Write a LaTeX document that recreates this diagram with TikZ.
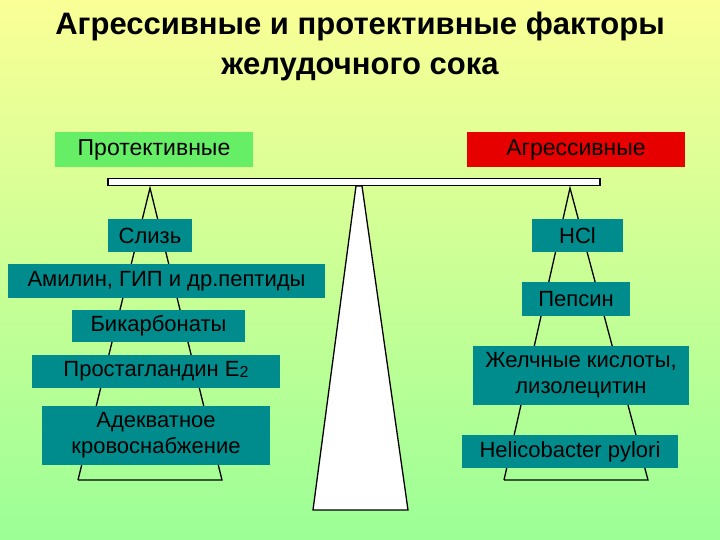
\documentclass[tikz,border=0pt]{standalone}
\usepackage{fontspec}
\setmainfont{Liberation Sans}
\begin{document}
\begin{tikzpicture}[x=1pt,y=-1pt,
  box/.style={fill=teal!90!black!95, text=black, font=\fontsize{22}{26}\selectfont, align=center, inner sep=0pt},
  sup/.style={draw=black, line width=1.3pt},
  hdr/.style={font=\fontsize{23}{26}\selectfont, inner sep=0pt}]
\definecolor{bgtop}{RGB}{250,255,150}
\definecolor{bgbot}{RGB}{155,255,150}
\definecolor{tealbox}{RGB}{0,140,140}
\shade[top color=bgtop, bottom color=bgbot] (0,0) rectangle (720,540);
\useasboundingbox (0,0) rectangle (720,540);
\node[font=\bfseries\fontsize{31}{40}\selectfont, align=center] (title) at (360,46) {Агрессивные и протективные факторы\\желудочного сока};
% pole
\coordinate (pa) at (356,186); \coordinate (pb) at (362,186);
\coordinate (pc) at (408,510); \coordinate (pd) at (313,510);
\draw[sup, fill=white] (pa) -- (pb) -- (pc) -- (pd) -- cycle;
% beam
\node[draw, line width=1.3pt, fill=white, minimum width=492pt, minimum height=7pt, inner sep=0pt] (beam) at (354,182) {};
% supports
\coordinate (la) at (150,188); \coordinate (lb) at (78,480); \coordinate (lc) at (222,480);
\draw[sup] (lb) -- (la) -- (lc) -- (lb);
\coordinate (ra) at (570,188); \coordinate (rb) at (504,480); \coordinate (rc) at (648,480);
\draw[sup] (rb) -- (ra) -- (rc) -- (rb);
% headers
\node[hdr, fill={rgb,255:red,102;green,238;blue,102}, minimum width=198pt, minimum height=35pt] (prot) at (154,150) {Протективные};
\node[hdr, fill={rgb,255:red,230;green,0;blue,0}, minimum width=218pt, minimum height=35pt] (aggr) at (576,150) {Агрессивные};
% left boxes
\node[box, fill=tealbox, minimum width=84pt, minimum height=33pt] (b1) at (150,235.5) {Слизь};
\node[box, fill=tealbox, minimum width=317pt, minimum height=34pt] (b2) at (166.5,281) {Амилин, ГИП и др.пептиды};
\node[box, fill=tealbox, minimum width=173pt, minimum height=32pt] (b3) at (158.5,326) {Бикарбонаты};
\node[box, fill=tealbox, minimum width=248pt, minimum height=33pt] (b4) at (156,371.5) {Простагландин E\raisebox{-1pt}{\fontsize{16}{18}\selectfont 2}};
\node[box, fill=tealbox, minimum width=228pt, minimum height=59pt] (b5) at (156,435.5) {Адекватное\\кровоснабжение};
% right boxes
\node[box, fill=tealbox, minimum width=91pt, minimum height=33pt] (r1) at (577.5,235.5) {HCl};
\node[box, fill=tealbox, minimum width=108pt, minimum height=34pt] (r2) at (576,299) {Пепсин};
\node[box, fill=tealbox, minimum width=216pt, minimum height=59pt] (r3) at (581,375.5) {Желчные кислоты,\\лизолецитин};
\node[box, fill=tealbox, minimum width=216pt, minimum height=33pt] (r4) at (570,451.5) {Helicobacter pylori};
\end{tikzpicture}
\end{document}
